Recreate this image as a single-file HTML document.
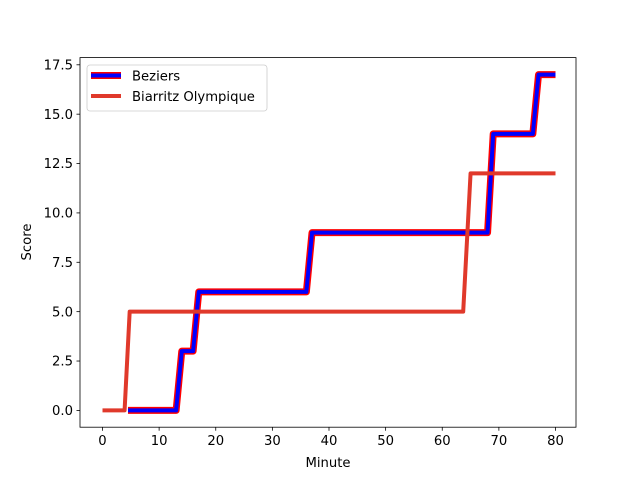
<!DOCTYPE html>
<html><head><meta charset="utf-8"><style>
body{margin:0;background:#fff}
svg{font-family:"DejaVu Sans","Liberation Sans",sans-serif}
</style></head><body>
<svg id="c" width="640" height="480" viewBox="0 0 640 480">
<rect width="640" height="480" fill="#fff"/>
<g id="plot"></g>
<rect x="80" y="57.6" width="496" height="369.6" fill="none" stroke="#000" stroke-width="0.8"/>
<g id="ticks" font-size="13.2" fill="#000"></g>
<text x="328" y="467" font-size="13.2" text-anchor="middle">Minute</text>
<text x="31" y="242" font-size="13.2" text-anchor="middle" transform="rotate(-90 31 242)">Score</text>
<g>
<rect x="87" y="65" width="180" height="46" rx="3" fill="#fff" fill-opacity="0.8" stroke="#ccc" stroke-width="0.8"/>
<line x1="91" y1="75.5" x2="121" y2="75.5" stroke="#f00" stroke-width="7"/>
<line x1="91" y1="75.5" x2="121" y2="75.5" stroke="#00f" stroke-width="4"/>
<text x="132" y="80.5" font-size="13.2">Beziers</text>
<line x1="91" y1="96" x2="121" y2="96" stroke="#e0392b" stroke-width="4"/>
<text x="132" y="101" font-size="13.2">Biarritz Olympique</text>
</g>
</svg>
<script>
const bezMinutes=[4.5,13,14,16,17,36,37,68,69,76,77,80];
const bezScores=[0,0,3,3,6,6,9,9,14,14,17,17];
const biaMinutes=[0,3.9,4.8,63.7,65,80];
const biaScores=[0,0,5,5,12,12];
const xTicks=[0,10,20,30,40,50,60,70,80];
const yTicks=[0,2.5,5,7.5,10,12.5,15,17.5];
const yTickLabels=["0.0","2.5","5.0","7.5","10.0","12.5","15.0","17.5"];
const NS="http://www.w3.org/2000/svg";
const X=m=>102.5+m*(555.5-102.5)/80;
const Y=v=>410.4-v*(410.4-64.8)/17.5;
function mk(t,a,p){const e=document.createElementNS(NS,t);for(const k in a)e.setAttribute(k,a[k]);p.appendChild(e);return e;}
const plot=document.getElementById('plot'),tk=document.getElementById('ticks');
function pts(ms,vs){return ms.map((m,i)=>X(m)+','+Y(vs[i])).join(' ');}
let e=mk('polyline',{points:pts(bezMinutes,bezScores),fill:'none',stroke:'#f00','stroke-width':7,'stroke-linejoin':'round'},plot);


e=mk('polyline',{points:pts(bezMinutes,bezScores),fill:'none',stroke:'#00f','stroke-width':4,'stroke-linejoin':'round'},plot);


e=mk('polyline',{points:pts(biaMinutes,biaScores),fill:'none',stroke:'#e0392b','stroke-width':4,'stroke-linejoin':'round'},plot);


xTicks.forEach(t=>{
 let l=mk('line',{x1:X(t),x2:X(t),y1:427.2,y2:430.7,stroke:'#000','stroke-width':0.8},tk);
 
 
 let s=mk('text',{x:X(t),y:445,'text-anchor':'middle'},tk);s.textContent=t;
 
 
});
yTicks.forEach((t,i)=>{
 let l=mk('line',{x1:76.5,x2:80,y1:Y(t),y2:Y(t),stroke:'#000','stroke-width':0.8},tk);
 
 
 let s=mk('text',{x:73,y:Y(t)+4.7,'text-anchor':'end'},tk);s.textContent=yTickLabels[i];
 
 
});
</script>
</body></html>
